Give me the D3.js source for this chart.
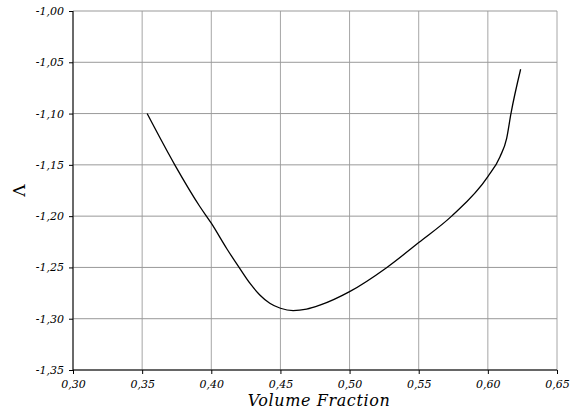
<!DOCTYPE html>
<html>
<head>
<meta charset="utf-8">
<script src="https://cdn.jsdelivr.net/npm/d3@7"></script>
<style>
  body { margin: 0; background: #fff; }
</style>
</head>
<body>
<script>
// volume fraction vs Lambda
var volFrac = [0.3536, 0.3736, 0.3917, 0.400, 0.411, 0.4201, 0.4279, 0.4351, 0.4423, 0.450, 0.4592,
               0.4689, 0.4785, 0.500, 0.527, 0.550, 0.5738, 0.600, 0.6088, 0.6136, 0.6167, 0.6237];
var lambda  = [-1.100, -1.150, -1.1906, -1.2069, -1.2313, -1.250, -1.2654, -1.2768, -1.2849, -1.2898, -1.2921,
               -1.2907, -1.2868, -1.2736, -1.250, -1.2258, -1.200, -1.1615, -1.142, -1.1241, -1.100, -1.0568];

var xTicks = [0.30, 0.35, 0.40, 0.45, 0.50, 0.55, 0.60, 0.65];
var yTicks = [-1.00, -1.05, -1.10, -1.15, -1.20, -1.25, -1.30, -1.35];

var serif = "'DejaVu Serif', 'Liberation Serif', serif";

var margin = {top: 11, right: 29, bottom: 44, left: 73},
    width = 586 - margin.left - margin.right,
    height = 414 - margin.top - margin.bottom;

var svg = d3.select("body").append("svg")
    .attr("width", 586)
    .attr("height", 414)
  .append("g")
    .attr("transform", "translate(" + margin.left + "," + margin.top + ")");

var x = d3.scaleLinear().domain([0.30, 0.65]).range([0, width]);
var y = d3.scaleLinear().domain([-1.35, -1.00]).range([height, 0]);

var fmt = function(d) { return d.toFixed(2).replace(".", ","); };

// grid
svg.selectAll(".vgrid").data(xTicks).enter().append("line")
    .attr("x1", d => x(d)).attr("x2", d => x(d))
    .attr("y1", 0).attr("y2", height)
    .attr("stroke", "#a6a6a6").attr("stroke-width", 1);
svg.selectAll(".hgrid").data(yTicks).enter().append("line")
    .attr("x1", 0).attr("x2", width)
    .attr("y1", d => y(d)).attr("y2", d => y(d))
    .attr("stroke", "#999").attr("stroke-width", 1);

// axes
var xAxis = svg.append("g")
    .attr("transform", "translate(0," + height + ")")
    .call(d3.axisBottom(x).tickValues(xTicks).tickFormat(fmt).tickSize(4).tickPadding(6));
var yAxis = svg.append("g")
    .call(d3.axisLeft(y).tickValues(yTicks).tickFormat(fmt).tickSize(4).tickPadding(5));
xAxis.attr("font-family", serif).attr("font-size", 11);
yAxis.attr("font-family", serif).attr("font-size", 11);
svg.selectAll(".domain").attr("stroke", "#000");
xAxis.select(".domain").attr("d", "M0,0H" + width);
yAxis.select(".domain").attr("d", "M0,0V" + height);
svg.selectAll(".tick text")
    .style("font-family", serif)
    .style("font-style", "italic")
    .attr("fill", "#000");
svg.selectAll(".tick line").attr("stroke", "#000");

// curve
var line = d3.line()
    .x((d, i) => x(volFrac[i]))
    .y(d => y(d))
    .curve(d3.curveMonotoneX);
svg.append("path")
    .attr("d", line(lambda))
    .attr("fill", "none")
    .attr("stroke", "#000")
    .attr("stroke-width", 1.3);

// titles
svg.append("text")
    .attr("x", width / 2 + 4)
    .attr("y", height + 36)
    .attr("text-anchor", "middle")
    .style("font-family", serif)
    .style("font-style", "italic")
    .attr("font-size", 16)
    .attr("letter-spacing", 0.6)
    .text("Volume Fraction");

svg.append("text")
    .attr("transform", "translate(" + (-48) + "," + y(-1.175) + ") rotate(-90)")
    .attr("text-anchor", "middle")
    .style("font-family", serif)
    .attr("font-size", 17)
    .text("Λ");
</script>
</body>
</html>
